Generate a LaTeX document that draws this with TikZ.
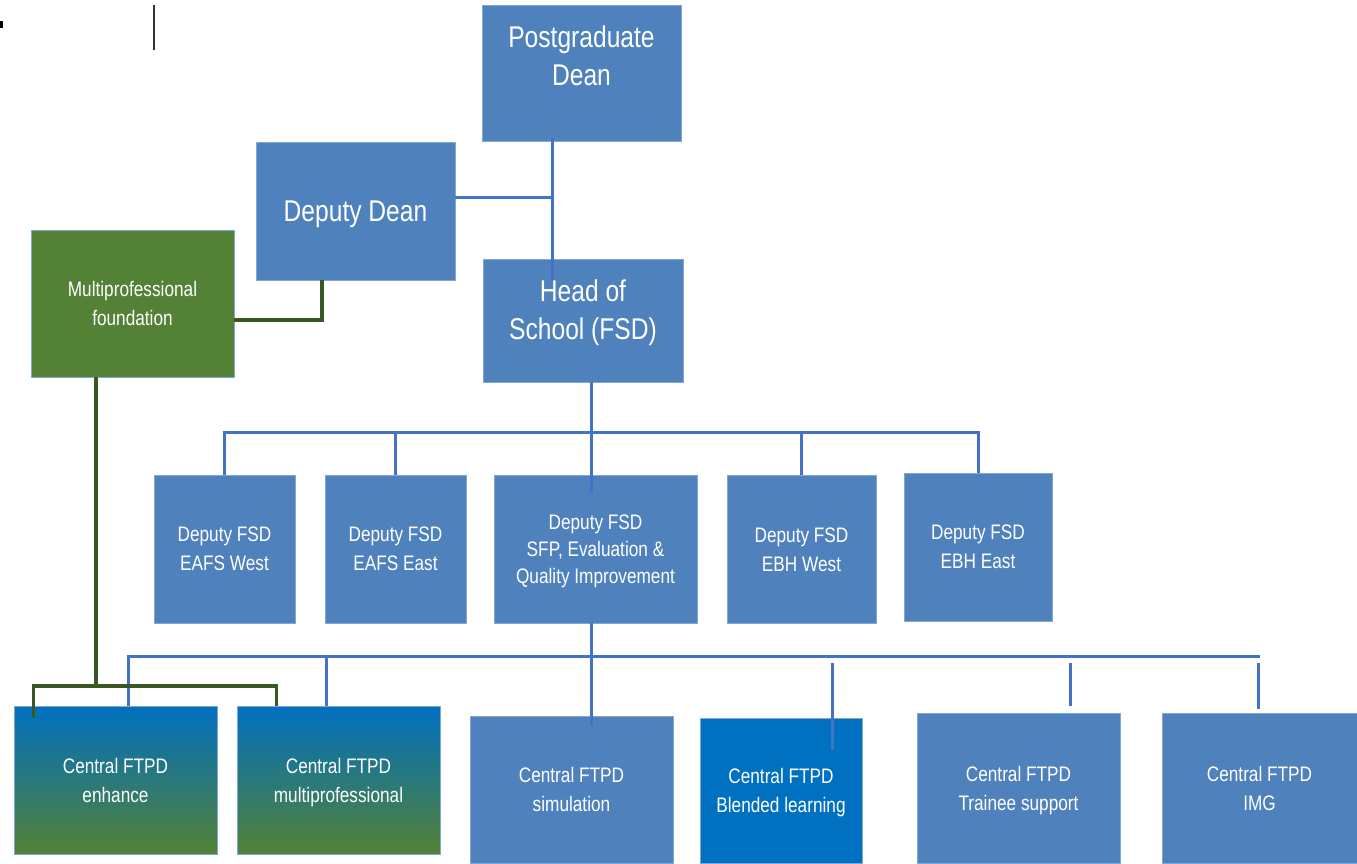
\documentclass[tikz,border=0pt]{standalone}
\usepackage{fontspec}
\setmainfont[FakeStretch=0.82]{Liberation Sans}
\usepackage{tikz}

\definecolor{boxblue}{HTML}{4F81BD}
\definecolor{deepblue}{HTML}{0070C0}
\definecolor{boxgreen}{HTML}{538135}
\definecolor{linkblue}{HTML}{4472C4}
\definecolor{linkgreen}{HTML}{385723}

\tikzset{
    orgbox/.style={rectangle, fill=boxblue, draw=boxblue!70!white, line width=0.8pt,
        text=white, align=center, inner sep=0pt, text depth=0pt,
        font=\fontsize{21}{29}\selectfont}, % small boxes
    bigbox/.style={orgbox, font=\fontsize{30}{38}\selectfont}, % top three boxes
    boxsize/.style 2 args={minimum width=#1pt, minimum height=#2pt},
    gradbox/.style={top color=deepblue, bottom color=boxgreen}, % blue to green
    bluelink/.style={draw=linkblue, line width=3pt},
    greenlink/.style={draw=linkgreen, line width=3.5pt}
}

\begin{document}
\begin{tikzpicture}[x=1pt, y=-1pt]
    \useasboundingbox (0,0) rectangle (1357,863);

    % marks in the corner
    \fill[black] (0,21) rectangle (3,28);
    \draw[black!80, line width=1.5pt] (154,5) -- (154,50);

    % top of the chart
    \node[bigbox, boxsize={199}{136}] (pgdean) at (581.5,73) {Postgraduate\\Dean\\[-3pt]\strut};
    \node[bigbox, boxsize={199}{138}] (dpdean) at (355.5,211) {Deputy Dean};
    \node[bigbox, boxsize={200}{123}] (hos) at (583,320.5) {Head of\\School (FSD)\\[-16pt]\strut};
    \node[orgbox, fill=boxgreen, boxsize={203}{147}] (mpfound) at (132.5,303.5)
        {Multiprofessional\\foundation};

    % deputy FSD row
    \node[orgbox, boxsize={141}{148}] (eafsw) at (224.5,549) {Deputy FSD\\EAFS West};
    \node[orgbox, boxsize={141}{148}] (eafse) at (395.5,549) {Deputy FSD\\EAFS East};
    \node[orgbox, boxsize={203}{148}, font=\fontsize{21}{27}\selectfont] (sfp) at (595.5,549)
        {Deputy FSD\\SFP, Evaluation \&\\Quality Improvement};
    \node[orgbox, boxsize={149}{148}] (ebhw) at (801.5,549.5) {Deputy FSD\\EBH West};
    \node[orgbox, boxsize={148}{148}] (ebhe) at (978,547) {Deputy FSD\\EBH East};

    % central FTPD row
    \node[orgbox, gradbox, boxsize={203}{148}] (enh) at (115.5,780) {Central FTPD\\enhance};
    \node[orgbox, gradbox, boxsize={203}{148}] (mpro) at (338.5,780) {Central FTPD\\multiprofessional};
    \node[orgbox, boxsize={203}{147}] (sim) at (571.5,789.5) {Central FTPD\\simulation};
    \node[orgbox, fill=deepblue, boxsize={162}{145}] (blend) at (781,790.5) {Central FTPD\\Blended learning};
    \node[orgbox, boxsize={203}{150}] (trainee) at (1018.5,788) {Central FTPD\\Trainee support};
    \node[orgbox, boxsize={195}{150}] (img) at (1259.5,788) {Central FTPD\\IMG};

    % blue lines
    \coordinate (pgtrunk) at ([xshift=-29.5pt]pgdean.south);
    \coordinate (hosin) at ([yshift=-21pt]hos.north);
    \draw[bluelink] ([yshift=3pt]pgtrunk) -- (pgtrunk |- hosin);
    \coordinate (ddlink) at ([yshift=14pt]dpdean.east);
    \draw[bluelink] (ddlink) -- (ddlink -| pgtrunk);

    \coordinate (fsdbar) at (0,432);
    \coordinate (hostrunk) at ([xshift=8pt]hos.south);
    \coordinate (sfpin) at ([yshift=-18pt]sfp.north);
    \draw[bluelink] (hostrunk) -- (hostrunk |- sfpin);
    \draw[bluelink] (eafsw.north) -- (eafsw.north |- fsdbar) -- (ebhe.north |- fsdbar) -- (ebhe.north);
    \foreach \nd in {eafse, ebhw}
        \draw[bluelink] (\nd.north) -- (\nd.north |- fsdbar);

    \coordinate (ftpdbar) at (0,656);
    \coordinate (ftpdgap) at (0,663);
    \coordinate (sfptrunk) at ([xshift=-4.5pt]sfp.south);
    \coordinate (simin) at ([yshift=-10pt]sim.north);
    \draw[bluelink] (sfptrunk) -- (sfptrunk |- simin);
    \coordinate (enhdrop) at ([xshift=12.5pt]enh.north);
    \coordinate (mprodrop) at ([xshift=-12.5pt]mpro.north);
    \draw[bluelink] (enhdrop) -- (enhdrop |- ftpdbar) -- (img.north |- ftpdbar);
    \draw[bluelink] (mprodrop) -- (mprodrop |- ftpdbar);
    \coordinate (blenddrop) at ([xshift=51pt,yshift=-32pt]blend.north);
    \coordinate (traineedrop) at ([xshift=51.5pt,yshift=7pt]trainee.north);
    \coordinate (imgdrop) at ([xshift=-1.5pt,yshift=4pt]img.north);
    \foreach \nd in {blenddrop, traineedrop, imgdrop}
        \draw[bluelink] (\nd) -- (\nd |- ftpdgap);

    % green lines
    \coordinate (ddgreen) at ([xshift=-33.5pt]dpdean.south);
    \coordinate (mfgreen) at ([yshift=-16.5pt]mpfound.east);
    \draw[greenlink] (ddgreen) |- (mfgreen);
    \coordinate (mftrunk) at ([xshift=-36.5pt]mpfound.south);
    \coordinate (grbar) at (0,686);
    \draw[greenlink] (mftrunk) -- (mftrunk |- grbar);
    \coordinate (enhgreen) at ([xshift=20pt,yshift=-12pt]enh.north west);
    \coordinate (mprogreen) at ([xshift=40pt]mpro.north west);
    \draw[greenlink] (enhgreen) -- (enhgreen |- grbar) -- (mprogreen |- grbar) -- (mprogreen);

\end{tikzpicture}
\end{document}
